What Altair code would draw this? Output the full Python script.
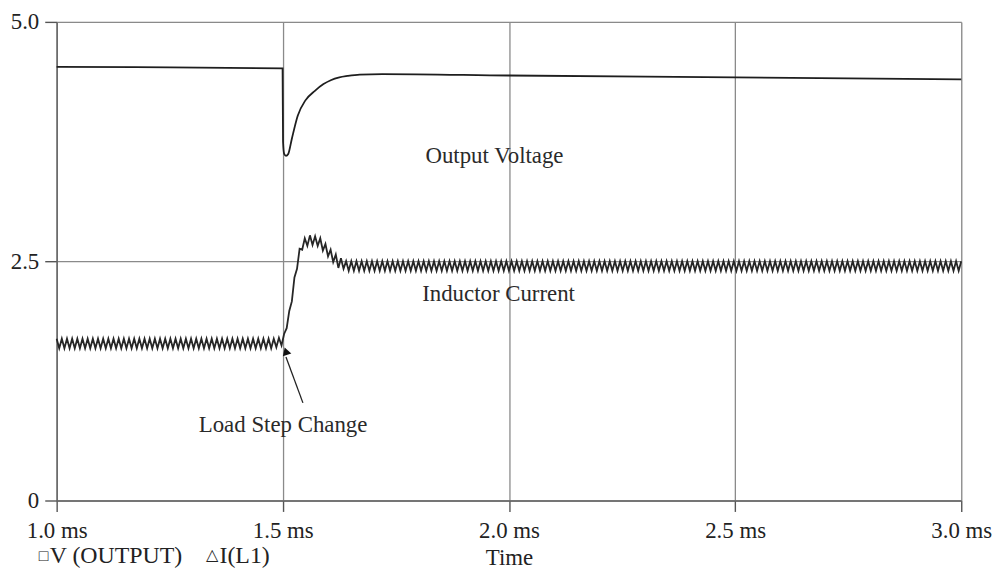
import altair as alt
import pandas as pd

# ---------------- data ----------------
# Output voltage (V) vs time (ms)
V_TIME = [1.0, 1.25, 1.4995, 1.5005, 1.503, 1.507, 1.512, 1.52, 1.533, 1.55,
          1.571, 1.59, 1.606, 1.625, 1.643, 1.67, 1.72, 2.0, 2.5, 3.0]
V_OUT = [4.53, 4.525, 4.515, 3.75, 3.62, 3.60, 3.62, 3.78, 4.02, 4.18,
         4.28, 4.35, 4.39, 4.42, 4.435, 4.45, 4.455, 4.44, 4.42, 4.40]

# Inductor current (A): ripple peaks / troughs, sampled every half switching period
I_PRE = [
    1.69, 1.59, 1.69, 1.59, 1.69, 1.59, 1.69, 1.59, 1.69, 1.59, 1.69, 1.59, 1.69, 1.59, 1.69, 1.59, 1.69, 1.59, 1.69, 1.59, 1.69, 1.59,
    1.69, 1.59, 1.69, 1.59, 1.69, 1.59, 1.69, 1.59, 1.69, 1.59, 1.69, 1.59, 1.69, 1.59, 1.69, 1.59, 1.69, 1.59, 1.69, 1.59, 1.69, 1.59,
    1.69, 1.59, 1.69, 1.59, 1.69, 1.59, 1.69, 1.59, 1.69, 1.59, 1.69, 1.59, 1.69, 1.59, 1.69, 1.59, 1.69, 1.59, 1.69, 1.59, 1.69, 1.59,
    1.69, 1.59, 1.69, 1.59, 1.69, 1.59, 1.69, 1.59, 1.69, 1.59, 1.69, 1.59, 1.69, 1.59, 1.69, 1.59, 1.69, 1.59, 1.69, 1.60, 1.70, 1.62,
]
I_STEP = [
    1.74, 1.80, 1.98, 2.08, 2.33, 2.42, 2.63, 2.62, 2.74, 2.66,
    2.77, 2.67, 2.76, 2.66, 2.74, 2.61, 2.68, 2.55, 2.62, 2.49,
    2.57, 2.43, 2.53, 2.42, 2.50, 2.40, 2.50, 2.40,
]
I_POST = [
    2.50, 2.40, 2.50, 2.40, 2.50, 2.40, 2.50, 2.40, 2.50, 2.40, 2.50, 2.40, 2.50, 2.40, 2.50, 2.40, 2.50, 2.40, 2.50, 2.40,
    2.50, 2.40, 2.50, 2.40, 2.50, 2.40, 2.50, 2.40, 2.50, 2.40, 2.50, 2.40, 2.50, 2.40, 2.50, 2.40, 2.50, 2.40, 2.50, 2.40,
    2.50, 2.40, 2.50, 2.40, 2.50, 2.40, 2.50, 2.40, 2.50, 2.40, 2.50, 2.40, 2.50, 2.40, 2.50, 2.40, 2.50, 2.40, 2.50, 2.40,
    2.50, 2.40, 2.50, 2.40, 2.50, 2.40, 2.50, 2.40, 2.50, 2.40, 2.50, 2.40, 2.50, 2.40, 2.50, 2.40, 2.50, 2.40, 2.50, 2.40,
    2.50, 2.40, 2.50, 2.40, 2.50, 2.40, 2.50, 2.40, 2.50, 2.40, 2.50, 2.40, 2.50, 2.40, 2.50, 2.40, 2.50, 2.40, 2.50, 2.40,
    2.50, 2.40, 2.50, 2.40, 2.50, 2.40, 2.50, 2.40, 2.50, 2.40, 2.50, 2.40, 2.50, 2.40, 2.50, 2.40, 2.50, 2.40, 2.50, 2.40,
    2.50, 2.40, 2.50, 2.40, 2.50, 2.40, 2.50, 2.40, 2.50, 2.40, 2.50, 2.40, 2.50, 2.40, 2.50, 2.40, 2.50, 2.40, 2.50, 2.40,
    2.50, 2.40, 2.50, 2.40, 2.50, 2.40, 2.50, 2.40, 2.50, 2.40, 2.50, 2.40, 2.50, 2.40, 2.50, 2.40, 2.50, 2.40, 2.50, 2.40,
    2.50, 2.40, 2.50, 2.40, 2.50, 2.40, 2.50, 2.40, 2.50, 2.40, 2.50, 2.40, 2.50, 2.40, 2.50, 2.40, 2.50, 2.40, 2.50, 2.40,
    2.50, 2.40, 2.50, 2.40, 2.50, 2.40, 2.50, 2.40, 2.50, 2.40, 2.50, 2.40, 2.50, 2.40, 2.50, 2.40, 2.50, 2.40, 2.50, 2.40,
    2.50, 2.40, 2.50, 2.40, 2.50, 2.40, 2.50, 2.40, 2.50, 2.40, 2.50, 2.40, 2.50, 2.40, 2.50, 2.40, 2.50, 2.40, 2.50, 2.40,
    2.50, 2.40, 2.50, 2.40, 2.50, 2.40, 2.50, 2.40, 2.50, 2.40, 2.50, 2.40, 2.50, 2.40, 2.50,
]
I_VALUES = I_PRE + I_STEP + I_POST
# sample instants: uniform half-period grid from 1.0 ms to 3.0 ms
I_TIME = [1.0 + k * 2.0 / (len(I_VALUES) - 1) for k in range(len(I_VALUES))]

X_TICKS = [1.0, 1.5, 2.0, 2.5, 3.0]
Y_TICKS = [0, 2.5, 5.0]

ANN_TEXT = ["Output Voltage", "Inductor Current", "Load Step Change"]
ANN_T = [1.968, 1.977, 1.5006]
ANN_V = [3.60, 2.16, 0.79]

ARROW_T = [1.5445]
ARROW_V = [1.02]
ARROW_T2 = [1.507]
ARROW_V2 = [1.50]
HEAD_T = [1.5068]
HEAD_V = [1.56]

FONT = "Liberation Serif"
FS = 23

vdf = pd.DataFrame({"t": V_TIME, "v": V_OUT})
idf = pd.DataFrame({"t": I_TIME, "v": I_VALUES})
adf = pd.DataFrame({"label": ANN_TEXT, "t": ANN_T, "v": ANN_V})
rdf = pd.DataFrame({"t": ARROW_T, "v": ARROW_V, "t2": ARROW_T2, "v2": ARROW_V2})
hdf = pd.DataFrame({"t": HEAD_T, "v": HEAD_V})
one = pd.DataFrame({"d": [0]})

xscale = alt.Scale(domain=[1.0, 3.0], nice=False, zero=False)
yscale = alt.Scale(domain=[0, 5], nice=False, zero=False)

x_axis = alt.Axis(
    values=X_TICKS, labelExpr="format(datum.value, '.1f') + ' ms'", title="Time",
    grid=True, gridColor="#8a8a8a", gridWidth=1.3, domainColor="#666666", domainWidth=1.5,
    tickColor="#555555", tickSize=11, tickWidth=1.4, labelFont=FONT, labelFontSize=FS,
    labelColor="#222222", labelPadding=8, labelFlush=False, titleFont=FONT, titleFontSize=FS,
    titleFontWeight="normal", titleColor="#222222", titlePadding=4,
)
y_axis = alt.Axis(
    values=Y_TICKS, labelExpr="datum.value == 0 ? '0' : format(datum.value, '.1f')", title=None,
    grid=True, gridColor="#8a8a8a", gridWidth=1.3, domainColor="#666666", domainWidth=1.5,
    tickColor="#555555", tickSize=12, tickWidth=1.4, labelFont=FONT, labelFontSize=FS,
    labelColor="#222222", labelPadding=6, labelFlush=False,
)

volt = alt.Chart(vdf).mark_line(color="#1e1e1e", strokeWidth=1.8, interpolate="monotone").encode(
    x=alt.X("t:Q", scale=xscale, axis=x_axis),
    y=alt.Y("v:Q", scale=yscale, axis=y_axis),
)
curr = alt.Chart(idf).mark_line(color="#262626", strokeWidth=1.8).encode(
    x=alt.X("t:Q", scale=xscale), y=alt.Y("v:Q", scale=yscale)
)
ann = alt.Chart(adf).mark_text(font=FONT, fontSize=FS, color="#2a2a2a", align="center", baseline="middle").encode(
    x=alt.X("t:Q", scale=xscale), y=alt.Y("v:Q", scale=yscale), text="label:N"
)
arrow = alt.Chart(rdf).mark_rule(color="#222222", strokeWidth=1.3).encode(
    x=alt.X("t:Q", scale=xscale), y=alt.Y("v:Q", scale=yscale), x2="t2:Q", y2="v2:Q"
)
head = alt.Chart(hdf).mark_point(shape="triangle-up", filled=True, color="#111111", size=80, angle=342, opacity=1).encode(
    x=alt.X("t:Q", scale=xscale), y=alt.Y("v:Q", scale=yscale)
)

def label(txt, px, py, size=FS):
    return alt.Chart(one).mark_text(font=FONT, fontSize=size, color="#222222", align="left", baseline="alphabetic").encode(
        x=alt.value(px), y=alt.value(py), text=alt.value(txt)
    )

legend = [
    label("\u25a1", -18, 543, 16),
    label("V (OUTPUT)", -7, 545, 24),
    label("\u25b3", 150, 542, 16),
    label("I(L1)", 164, 545, 24),
]

chart = alt.layer(volt, curr, arrow, head, ann, *legend).properties(
    width=911, height=482,
    autosize=alt.AutoSizeParams(type="none"),
    padding={"left": 49, "top": 12, "right": 36, "bottom": 68},
).configure_view(stroke=None).configure(background="white")

chart.save("out.html", embed_options={"renderer": "svg", "actions": False})
